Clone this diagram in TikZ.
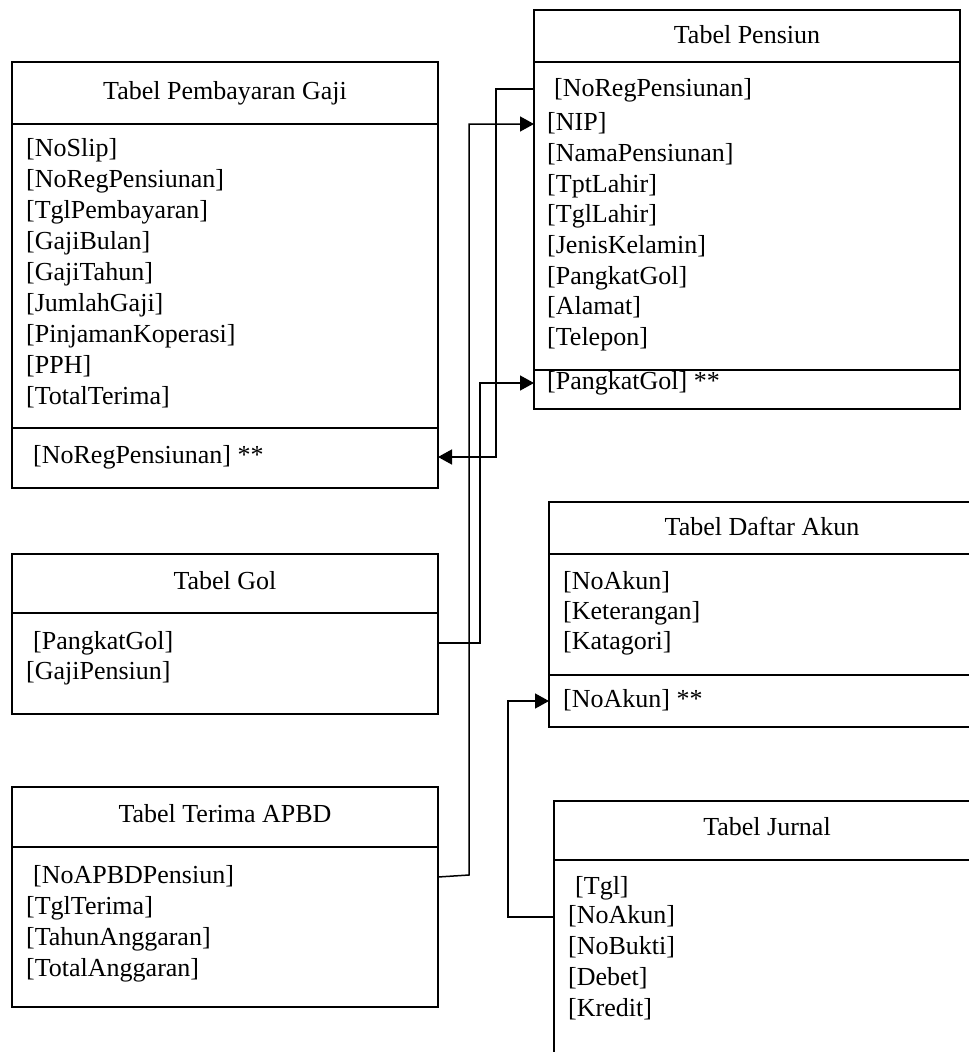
\documentclass[tikz,border=0pt]{standalone}
\usepackage{fontspec}
\setmainfont{Liberation Serif}
\usetikzlibrary{arrows.meta}
\begin{document}
\begin{tikzpicture}[x=1pt,y=-1pt,
  tbl/.style={draw, line width=1.5pt, inner sep=0pt, outer sep=0pt, minimum width=426pt, anchor=north west},
  rule/.style={line width=1.5pt},
  fld/.style={anchor=west, inner sep=0pt, text height=18pt, text depth=6pt, font=\fontsize{26}{31}\selectfont},
  ttl/.style={fld, anchor=center},
  wire/.style={line width=1.5pt},
  link/.style={wire, -{Triangle[length=14pt,width=15pt]}}]
\useasboundingbox (0,0) rectangle (969,1052);
\clip (0,0) rectangle (969,1052);

% ---------- Tabel Pembayaran Gaji ----------
\node[tbl, minimum height=426pt] (pg) at (12,62) {};
\draw[rule] (pg.west |- 0,124) -- (pg.east |- 0,124);
\draw[rule] (pg.west |- 0,428) -- (pg.east |- 0,428);
\node[ttl] (pgt) at (225,93) {Tabel Pembayaran Gaji};
\node[fld] (pg1) at (26,150) {[NoSlip]};
\node[fld] (pg2) at (26,181) {[NoRegPensiunan]};
\node[fld] (pg3) at (26,212) {[TglPembayaran]};
\node[fld] (pg4) at (26,243) {[GajiBulan]};
\node[fld] (pg5) at (26,274) {[GajiTahun]};
\node[fld] (pg6) at (26,305) {[JumlahGaji]};
\node[fld] (pg7) at (26,336) {[PinjamanKoperasi]};
\node[fld] (pg8) at (26,367) {[PPH]};
\node[fld] (pg9) at (26,398) {[TotalTerima]};
\node[fld] (pgk) at (33,457) {[NoRegPensiunan] **};

% ---------- Tabel Pensiun ----------
\node[tbl, minimum height=399pt] (ps) at (534,10) {};
\draw[rule] (ps.west |- 0,62) -- (ps.east |- 0,62);
\draw[rule] (ps.west |- 0,370) -- (ps.east |- 0,370);
\node[ttl] (pst) at (747,37) {Tabel Pensiun};
\node[fld] (ps1) at (554,90) {[NoRegPensiunan]};
\node[fld] (ps2) at (547,124) {[NIP]};
\node[fld] (ps3) at (547,155) {[NamaPensiunan]};
\node[fld] (ps4) at (547,186) {[TptLahir]};
\node[fld] (ps5) at (547,216) {[TglLahir]};
\node[fld] (ps6) at (547,247) {[JenisKelamin]};
\node[fld] (ps7) at (547,278) {[PangkatGol]};
\node[fld] (ps8) at (547,308) {[Alamat]};
\node[fld] (ps9) at (547,339) {[Telepon]};
\node[fld] (psk) at (547,383) {[PangkatGol] **};

% ---------- Tabel Gol ----------
\node[tbl, minimum height=160pt] (gol) at (12,554) {};
\draw[rule] (gol.west |- 0,613) -- (gol.east |- 0,613);
\node[ttl] (golt) at (225,583) {Tabel Gol};
\node[fld] (gol1) at (33,643) {[PangkatGol]};
\node[fld] (gol2) at (26,673) {[GajiPensiun]};

% ---------- Tabel Terima APBD ----------
\node[tbl, minimum height=220pt] (ap) at (12,787) {};
\draw[rule] (ap.west |- 0,847) -- (ap.east |- 0,847);
\node[ttl] (apt) at (225,816) {Tabel Terima APBD};
\node[fld] (ap1) at (33,877) {[NoAPBDPensiun]};
\node[fld] (ap2) at (26,908) {[TglTerima]};
\node[fld] (ap3) at (26,939) {[TahunAnggaran]};
\node[fld] (ap4) at (26,970) {[TotalAnggaran]};

% ---------- Tabel Daftar Akun ----------
\node[tbl, minimum height=225pt] (da) at (549,502) {};
\draw[rule] (da.west |- 0,554) -- (da.east |- 0,554);
\draw[rule] (da.west |- 0,675) -- (da.east |- 0,675);
\node[ttl] (dat) at (762,529) {Tabel Daftar Akun};
\node[fld] (da1) at (563,583) {[NoAkun]};
\node[fld] (da2) at (563,613) {[Keterangan]};
\node[fld] (da3) at (563,643) {[Katagori]};
\node[fld] (dak) at (563,701) {[NoAkun] **};

% ---------- Tabel Jurnal ----------
\node[tbl, minimum height=320pt] (jr) at (554,801) {};
\draw[rule] (jr.west |- 0,860) -- (jr.east |- 0,860);
\node[ttl] (jrt) at (767,829) {Tabel Jurnal};
\node[fld] (jr1) at (575,888) {[Tgl]};
\node[fld] (jr2) at (568,917) {[NoAkun]};
\node[fld] (jr3) at (568,948) {[NoBukti]};
\node[fld] (jr4) at (568,979) {[Debet]};
\node[fld] (jr5) at (568,1010) {[Kredit]};

% ---------- relations ----------
\draw[link] (ap1 -| ap.east) -- ++(31,-2) |- (ps2 -| ps.west);
\draw[link] (gol1 -| gol.east) -- ++(42,0) |- (psk -| ps.west);
\draw[link] (ps.west |- 0,89) -- ++(-38,0) |- (pgk -| pg.east);
\draw[link] (jr2 -| jr.west) -- ++(-46,0) |- (dak -| da.west);
\end{tikzpicture}
\end{document}
